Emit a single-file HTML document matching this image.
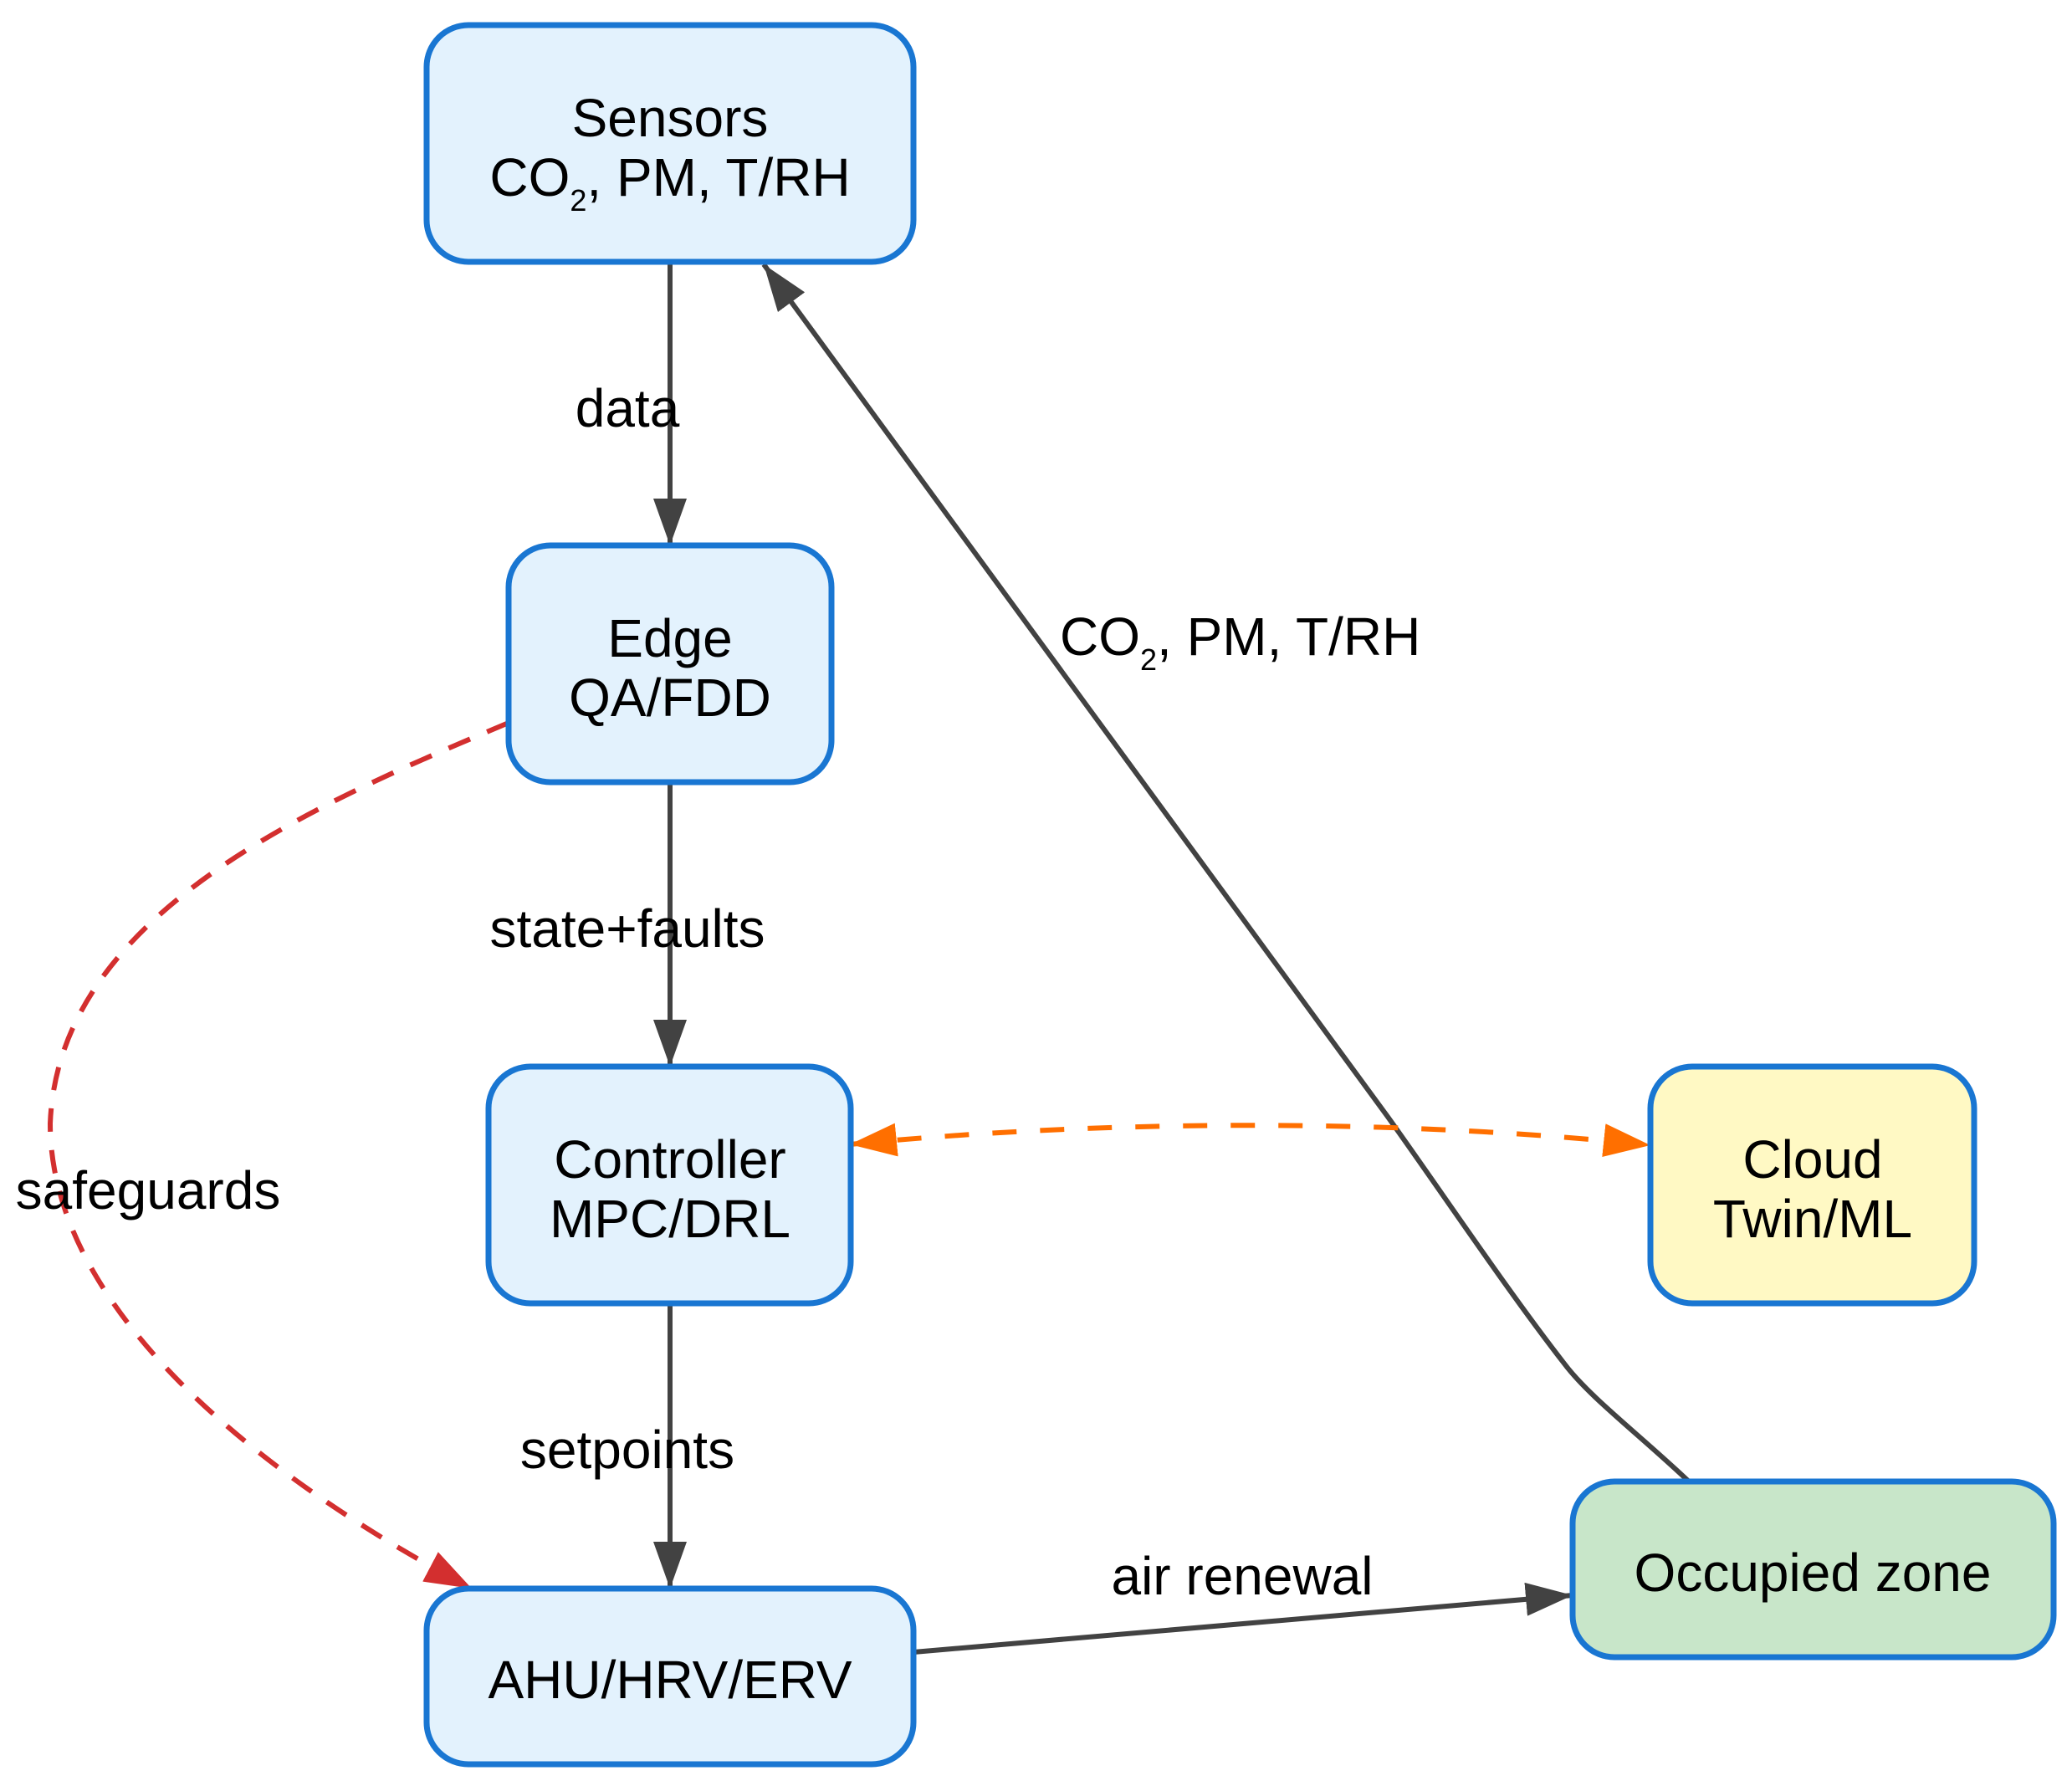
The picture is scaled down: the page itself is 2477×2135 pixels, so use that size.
<!DOCTYPE html>
<html><head><meta charset="utf-8"><style>
html,body{margin:0;padding:0;background:#fff;}
svg{display:block;}
text{font-family:"Liberation Sans",Helvetica,Arial,sans-serif;font-size:64px;fill:#000;}
</style></head><body>
<svg width="2477" height="2135" viewBox="0 0 2477 2135" xmlns="http://www.w3.org/2000/svg">
<defs>
<marker id="ag" markerUnits="userSpaceOnUse" markerWidth="58" markerHeight="40" refX="56" refY="20" orient="auto"><path d="M0,0 L56,20 L0,40 Z" fill="#424242"/></marker>
<marker id="ar" markerUnits="userSpaceOnUse" markerWidth="58" markerHeight="40" refX="56" refY="20" orient="auto"><path d="M0,0 L56,20 L0,40 Z" fill="#d32f2f"/></marker>
<marker id="ao" markerUnits="userSpaceOnUse" markerWidth="58" markerHeight="40" refX="56" refY="20" orient="auto-start-reverse"><path d="M0,0 L56,20 L0,40 Z" fill="#ff6f00"/></marker>
</defs>
<g fill="none" stroke-width="6">
<line x1="801" y1="313" x2="801" y2="652" stroke="#424242" marker-end="url(#ag)"/>
<line x1="801" y1="935" x2="801" y2="1275" stroke="#424242" marker-end="url(#ag)"/>
<line x1="801" y1="1558" x2="801" y2="1899" stroke="#424242" marker-end="url(#ag)"/>
<path d="M2019,1771 C1960,1715 1900,1670 1870,1630 C1800,1540 1720,1420 1659,1335 L913,316" stroke="#424242" marker-end="url(#ag)"/>
<line x1="1092" y1="1975" x2="1880" y2="1907" stroke="#424242" marker-end="url(#ag)"/>
<path d="M1016,1368 C1300,1340 1650,1335 1973,1369" stroke="#ff6f00" stroke-dasharray="29,28" marker-start="url(#ao)" marker-end="url(#ao)"/>
<path d="M608,864 C380,960 70,1090 60,1343 C60,1560 300,1760 564,1899" stroke="#d32f2f" stroke-dasharray="28,22" marker-end="url(#ar)"/>
</g>
<g stroke="#1976d2" stroke-width="7">
<rect x="510" y="30" width="582" height="283" rx="50" fill="#e3f2fd"/>
<rect x="608" y="652" width="386" height="283" rx="50" fill="#e3f2fd"/>
<rect x="584" y="1275" width="433" height="283" rx="50" fill="#e3f2fd"/>
<rect x="1973" y="1275" width="387" height="283" rx="50" fill="#fff9c4"/>
<rect x="1880" y="1771" width="575" height="210" rx="50" fill="#c8e6c9"/>
<rect x="510" y="1899" width="582" height="210" rx="50" fill="#e3f2fd"/>
</g>
<g text-anchor="middle">
<text x="801" y="163">Sensors</text>
<text x="801" y="234">CO<tspan font-size="36" dy="18">2</tspan><tspan dy="-18">, PM, T/RH</tspan></text>
<text x="801" y="785">Edge</text>
<text x="801" y="856">QA/FDD</text>
<text x="801" y="1408">Controller</text>
<text x="801" y="1479">MPC/DRL</text>
<text x="2167" y="1408">Cloud</text>
<text x="2167" y="1479">Twin/ML</text>
<text x="2167" y="1902">Occupied zone</text>
<text x="801" y="2030">AHU/HRV/ERV</text>
<text x="750" y="510">data</text>
<text x="750" y="1132">state+faults</text>
<text x="750" y="1755">setpoints</text>
<text x="1485" y="1906">air renewal</text>
<text x="177" y="1445">safeguards</text>
</g>
<text x="1267" y="783">CO<tspan font-size="36" dy="18">2</tspan><tspan dy="-18">, PM, T/RH</tspan></text>
</svg>
</body></html>
